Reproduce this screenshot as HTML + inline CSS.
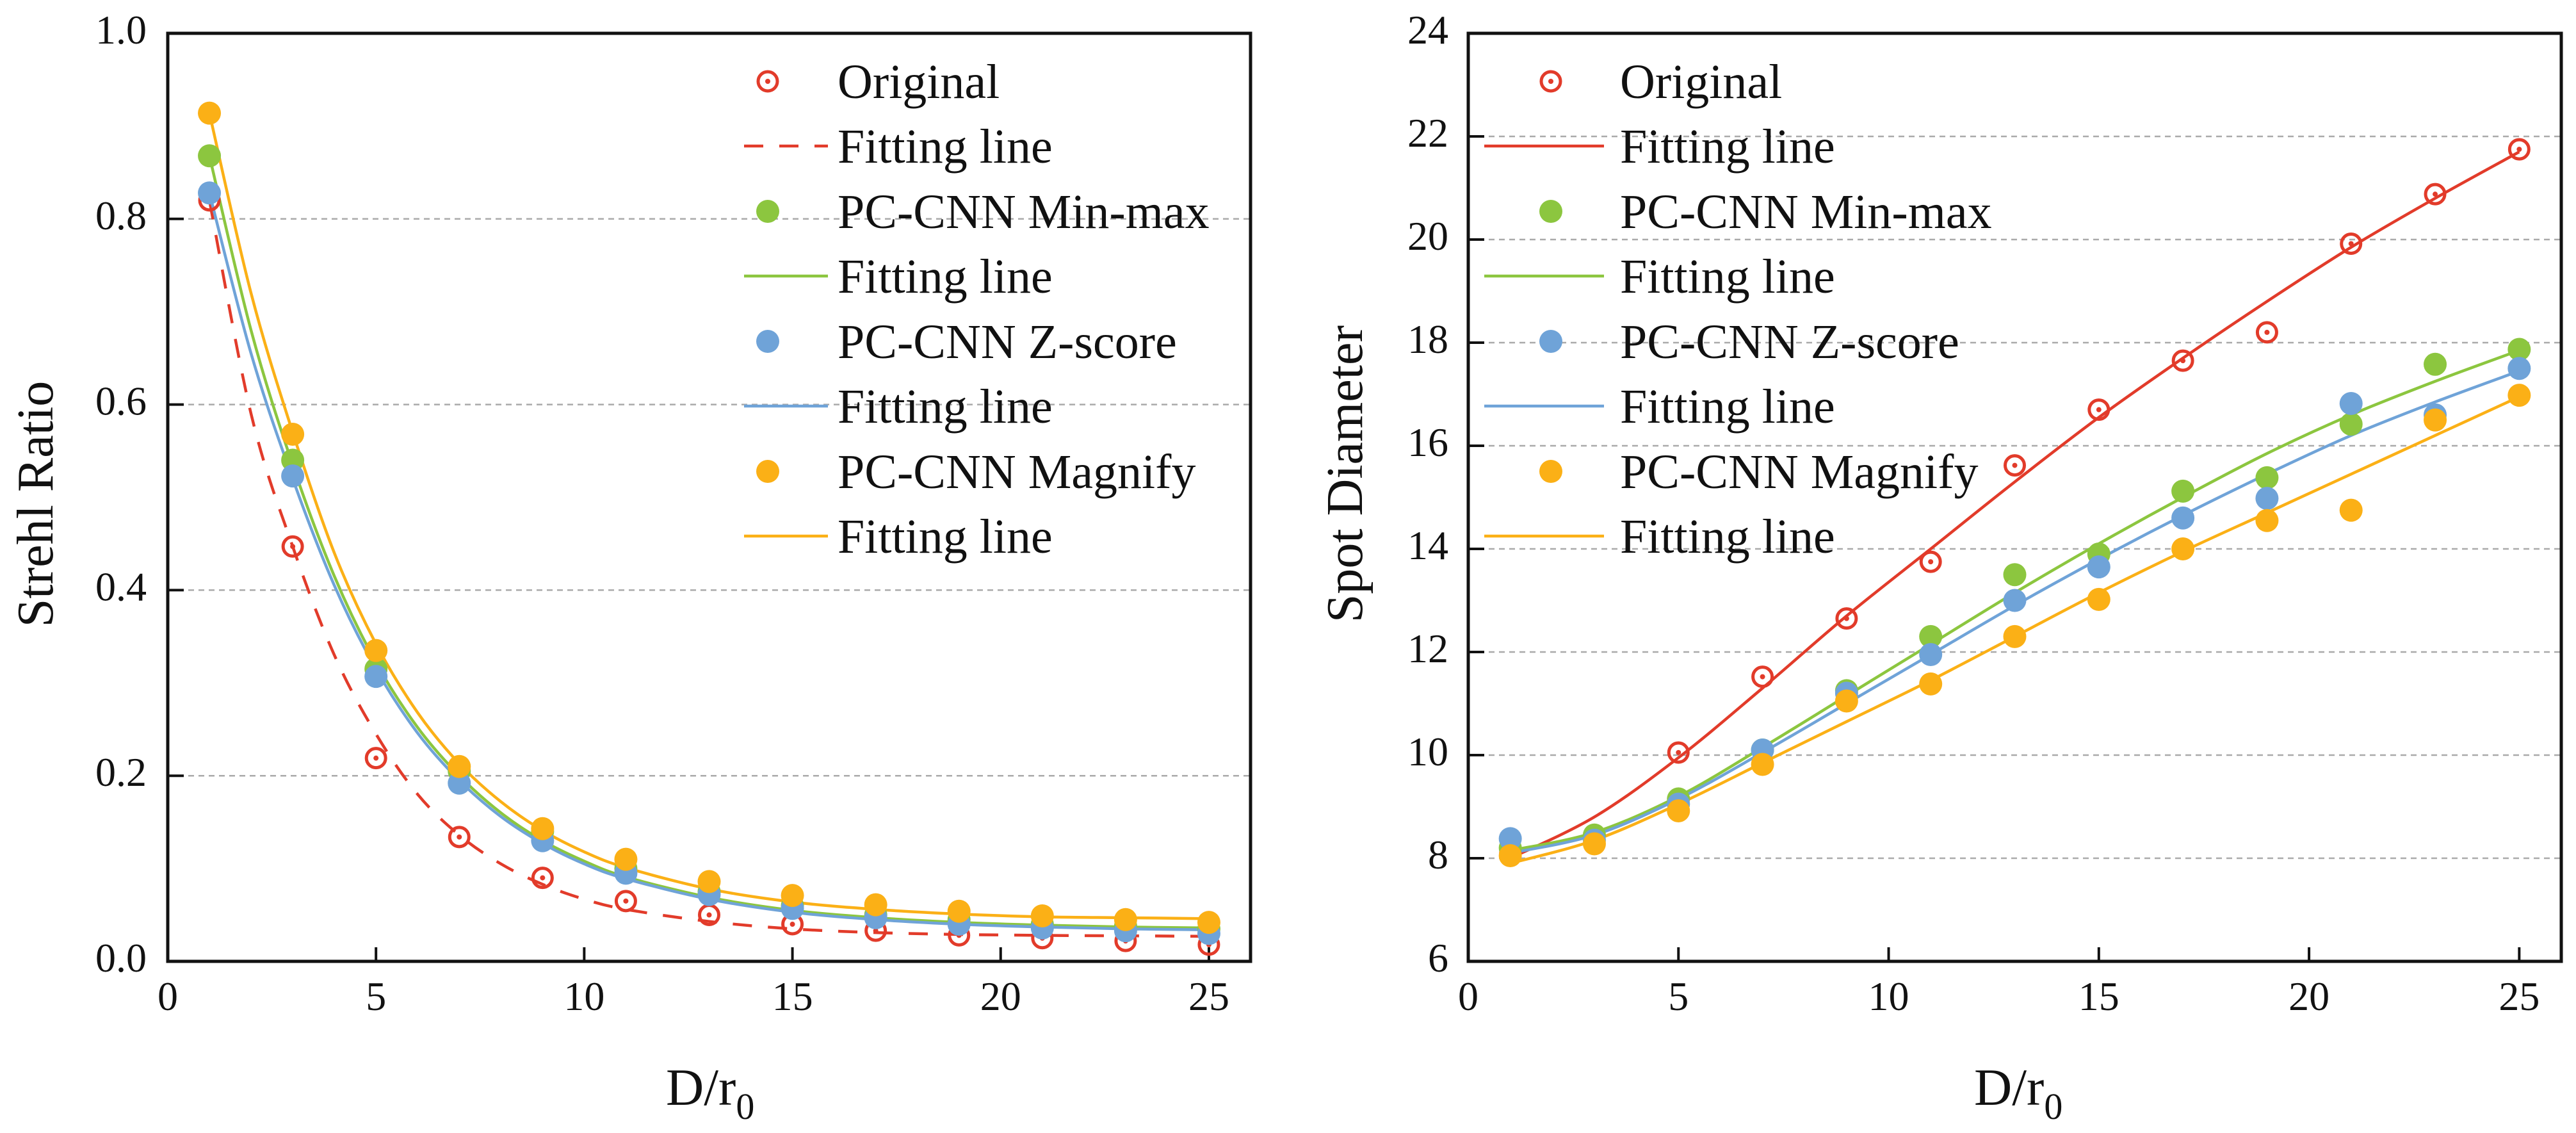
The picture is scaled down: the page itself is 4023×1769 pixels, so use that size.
<!DOCTYPE html>
<html><head><meta charset="utf-8"><style>
html,body{margin:0;padding:0;background:#fff;}
svg{display:block;}
text{font-family:"Liberation Serif",serif;fill:#111;}
</style></head><body>
<svg id="fig" width="4023" height="1769" viewBox="0 0 4023 1769" xmlns="http://www.w3.org/2000/svg"></svg>
<script>
// ---------- data ----------
const xPts = [1,3,5,7,9,11,13,15,17,19,21,23,25];
const xTicks = [0,5,10,15,20,25];
// Left chart (Strehl Ratio)
const srTicks = [0.0,0.2,0.4,0.6,0.8,1.0];
const srTickLabels = ["0.0","0.2","0.4","0.6","0.8","1.0"];
const srOriginal = [0.82,0.447,0.219,0.134,0.09,0.065,0.05,0.04,0.033,0.028,0.025,0.022,0.018];
const srMinmax = [0.868,0.54,0.315,0.205,0.14,0.10,0.075,0.06,0.05,0.045,0.04,0.038,0.035];
const srZscore = [0.828,0.523,0.307,0.192,0.13,0.095,0.072,0.057,0.047,0.04,0.036,0.033,0.03];
const srMagnify = [0.914,0.568,0.335,0.21,0.143,0.11,0.086,0.071,0.061,0.054,0.049,0.045,0.042];
const srFitX = [1,2,3,4,5,6,7,8,9,10,11,13,15,17,19,21,23,25];
const srFitOriginal = [0.82,0.59,0.447,0.33,0.245,0.18,0.136,0.105,0.083,0.067,0.056,0.043,0.035,0.031,0.029,0.028,0.0275,0.027];
const srFitMinmax = [0.868,0.68,0.535,0.415,0.322,0.252,0.2,0.16,0.13,0.108,0.091,0.069,0.055,0.047,0.042,0.039,0.037,0.036];
const srFitZscore = [0.828,0.655,0.52,0.405,0.315,0.246,0.195,0.156,0.127,0.105,0.089,0.067,0.053,0.045,0.040,0.037,0.035,0.034];
const srFitMagnify = [0.914,0.72,0.57,0.44,0.342,0.268,0.213,0.172,0.141,0.118,0.101,0.078,0.064,0.056,0.051,0.048,0.047,0.046];
// Right chart (Spot Diameter)
const sdTicks = [6,8,10,12,14,16,18,20,22,24];
const sdTickLabels = ["6","8","10","12","14","16","18","20","22","24"];
const sdOriginal = [8.1,8.4,10.05,11.52,12.65,13.75,15.62,16.7,17.65,18.2,19.92,20.88,21.75];
const sdMinmax = [8.2,8.45,9.15,10.1,11.25,12.3,13.5,13.9,15.12,15.38,16.42,17.58,17.87];
const sdZscore = [8.38,8.35,9.05,10.1,11.2,11.95,13.0,13.65,14.6,14.98,16.82,16.6,17.5];
const sdMagnify = [8.05,8.28,8.92,9.82,11.05,11.38,12.3,13.02,14.0,14.55,14.75,16.5,16.98];
const sdFitOriginal = [8.0,8.8,9.95,11.3,12.7,14.0,15.3,16.55,17.7,18.8,19.85,20.8,21.7];
const sdFitMinmax = [8.15,8.5,9.2,10.15,11.15,12.15,13.15,14.1,15.0,15.85,16.6,17.25,17.85];
const sdFitZscore = [8.1,8.45,9.15,10.05,11.0,11.95,12.9,13.8,14.65,15.45,16.2,16.85,17.45];
const sdFitMagnify = [7.9,8.35,9.05,9.85,10.65,11.45,12.3,13.15,13.95,14.7,15.45,16.2,16.95];
const legendLabels = ["Original","Fitting line","PC-CNN Min-max","Fitting line","PC-CNN Z-score","Fitting line","PC-CNN Magnify","Fitting line"];

const RED="#e23b2a", GREEN="#8cc63f", BLUE="#6fa3d8", ORANGE="#fbb016";
const NS="http://www.w3.org/2000/svg";
const svg=document.getElementById('fig');
function mk(tag,attrs,parent){const e=document.createElementNS(NS,tag);for(const k in attrs)e.setAttribute(k,attrs[k]);(parent||svg).appendChild(e);return e;}
function smooth(pts){let d="M"+pts[0][0]+","+pts[0][1];for(let i=0;i<pts.length-1;i++){const p0=pts[Math.max(0,i-1)],p1=pts[i],p2=pts[i+1],p3=pts[Math.min(pts.length-1,i+2)];const c1x=p1[0]+(p2[0]-p0[0])/6,c1y=p1[1]+(p2[1]-p0[1])/6,c2x=p2[0]-(p3[0]-p1[0])/6,c2y=p2[1]-(p3[1]-p1[1])/6;d+=" C"+c1x+","+c1y+" "+c2x+","+c2y+" "+p2[0]+","+p2[1];}return d;}

function chart(cfg){
  const g=mk('g',{});
  
  
  const L=cfg.left,R=cfg.right,T=52,B=1501;
  const sx=v=>L+(v-0)/(26-0)*(R-L);
  const sy=v=>B-(v-cfg.ymin)/(cfg.ymax-cfg.ymin)*(B-T);
  // gridlines
  cfg.yticks.forEach((v,i)=>{
    if(i>0&&i<cfg.yticks.length-1){
      const gl=mk('line',{x1:L,x2:R,y1:sy(v),y2:sy(v),stroke:"#aaa","stroke-width":2.5,"stroke-dasharray":"9,7"},g);
      
      
    }
    const tk=mk('line',{x1:L,x2:L+25,y1:sy(v),y2:sy(v),stroke:"#111","stroke-width":4},g);
    
    
    const t=mk('text',{x:cfg.ylabX,y:sy(v)+16,"text-anchor":"end","font-size":64},g);
    t.textContent=cfg.ylabels[i];
    
    
  });
  xTicks.forEach(v=>{
    const tk=mk('line',{x1:sx(v),x2:sx(v),y1:B,y2:B-22,stroke:"#111","stroke-width":4},g);
    
    
    const t=mk('text',{x:sx(v),y:1577,"text-anchor":"middle","font-size":64},g);
    t.textContent=String(v);
    
    
  });
  // fit lines
  cfg.fits.forEach(f=>{
    const p=mk('path',{d:smooth(f.xs.map((x,i)=>[sx(x),sy(f.ys[i])])),fill:"none",stroke:f.color,"stroke-width":4.5},g);
    if(f.dash)p.setAttribute('stroke-dasharray',f.dash);
    
    
  });
  // points
  cfg.series.forEach(s=>{
    s.ys.forEach((y,i)=>{
      if(s.open){
        const c=mk('circle',{cx:sx(xPts[i]),cy:sy(y),r:15,fill:"none",stroke:s.color,"stroke-width":5},g);
        
        
        const d=mk('circle',{cx:sx(xPts[i]),cy:sy(y),r:4,fill:s.color},g);
        
        
      } else {
        const c=mk('circle',{cx:sx(xPts[i]),cy:sy(y),r:18,fill:s.color},g);
        
        
      }
    });
  });
  // axes frame
  const fr=mk('rect',{x:L,y:T,width:R-L,height:B-T,fill:"none",stroke:"#111","stroke-width":5},g);
  
  
  // legend
  const rows=[127,228,330,431,533,634,736,837];
  const lcol=[RED,RED,GREEN,GREEN,BLUE,BLUE,ORANGE,ORANGE];
  rows.forEach((ry,i)=>{
    if(i%2===0){
      if(i===0){
        const c=mk('circle',{cx:cfg.lgMarkX,cy:ry,r:15,fill:"#fff",stroke:RED,"stroke-width":5},g);
        
        
        const d=mk('circle',{cx:cfg.lgMarkX,cy:ry,r:4,fill:RED},g);
        
        
      } else {
        const c=mk('circle',{cx:cfg.lgMarkX,cy:ry,r:18,fill:lcol[i]},g);
        
        
      }
    } else {
      const ln=mk('line',{x1:cfg.lgLine[0],x2:cfg.lgLine[1],y1:ry,y2:ry,stroke:lcol[i],"stroke-width":4.5},g);
      if(i===1&&cfg.dashLegend)ln.setAttribute('stroke-dasharray','30,25');
      
      
    }
    const t=mk('text',{x:cfg.lgTextX,y:ry+26,"font-size":76},g);
    t.textContent=legendLabels[i];
    
    
  });
  // axis titles
  const yt=mk('text',{x:0,y:0,"text-anchor":"middle","font-size":80,transform:"translate("+cfg.ytX+","+cfg.ytY+") rotate(-90)"},g);
  yt.textContent=cfg.ytitle;
  
  
  const xt=mk('text',{x:cfg.xtX,y:1725,"font-size":82},g);
  
  
  xt.innerHTML='D/r<tspan font-size="58" dy="22">0</tspan>';
}

chart({name:"strehl-ratio-chart",left:262,right:1953,ymin:0,ymax:1,yticks:srTicks,ylabels:srTickLabels,ylabX:229,
  fits:[{xs:srFitX,ys:srFitOriginal,color:RED,dash:"30,25"},{xs:srFitX,ys:srFitMinmax,color:GREEN},{xs:srFitX,ys:srFitZscore,color:BLUE},{xs:srFitX,ys:srFitMagnify,color:ORANGE}],
  series:[{ys:srOriginal,color:RED,open:true,name:"original"},{ys:srMinmax,color:GREEN,name:"minmax"},{ys:srZscore,color:BLUE,name:"zscore"},{ys:srMagnify,color:ORANGE,name:"magnify"}],
  lgMarkX:1199,lgLine:[1162,1293],lgTextX:1308,dashLegend:true,
  ytitle:"Strehl Ratio",ytX:82,ytY:787,xtX:1040});

chart({name:"spot-diameter-chart",left:2293,right:4000,ymin:6,ymax:24,yticks:sdTicks,ylabels:sdTickLabels,ylabX:2262,
  fits:[{xs:xPts,ys:sdFitOriginal,color:RED},{xs:xPts,ys:sdFitMinmax,color:GREEN},{xs:xPts,ys:sdFitZscore,color:BLUE},{xs:xPts,ys:sdFitMagnify,color:ORANGE}],
  series:[{ys:sdOriginal,color:RED,open:true,name:"original"},{ys:sdMinmax,color:GREEN,name:"minmax"},{ys:sdZscore,color:BLUE,name:"zscore"},{ys:sdMagnify,color:ORANGE,name:"magnify"}],
  lgMarkX:2422,lgLine:[2318,2505],lgTextX:2530,dashLegend:false,
  ytitle:"Spot Diameter",ytX:2127,ytY:740,xtX:3083});
</script>
</body></html>
